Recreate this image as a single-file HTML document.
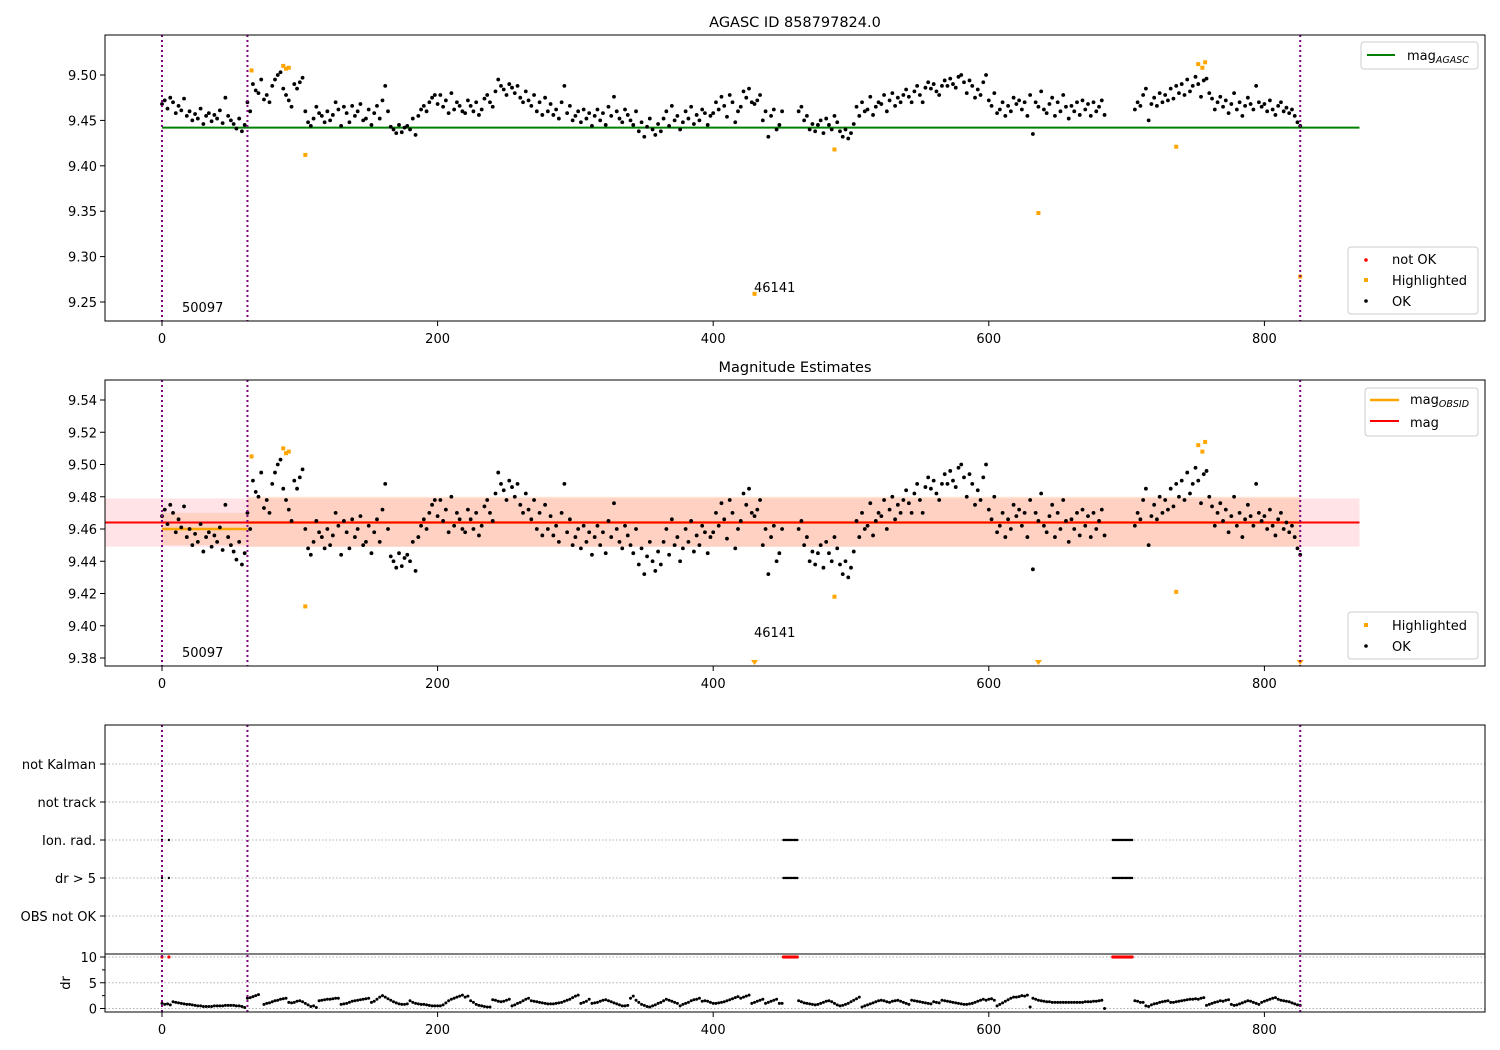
<!DOCTYPE html>
<html><head><meta charset="utf-8"><style>
html,body{margin:0;padding:0;background:#fff;}
svg{display:block;font-family:"DejaVu Sans","Liberation Sans",sans-serif;}
</style></head><body>
<svg id="fig" width="1500" height="1050" viewBox="0 0 1500 1050" xmlns="http://www.w3.org/2000/svg">
<rect width="1500" height="1050" fill="#fff"/>
<g id="topPanel"></g>
<g id="midPanel"></g>
<g id="botPanel"></g>
</svg>
<script>
// ---- data ----
const xStep = 2;
const okMag = [
9.468,9.472,9.463,9.475,9.470,9.458,9.466,9.461,9.474,9.455,
9.460,9.450,9.457,9.452,9.463,9.446,9.455,9.458,9.449,9.456,
9.452,9.461,9.447,9.475,9.455,9.450,9.446,9.441,9.452,9.438,
9.445,9.470,9.460,9.490,9.483,9.480,9.495,9.473,9.478,9.470,
9.488,9.495,9.500,9.503,9.485,9.478,9.472,9.465,9.490,9.485,
9.492,9.497,9.460,9.448,9.444,9.452,9.465,9.458,9.455,9.448,
9.460,9.450,9.456,9.470,9.462,9.444,9.465,9.458,9.448,9.466,
9.455,9.460,9.468,9.450,9.452,9.462,9.445,9.458,9.466,9.452,
9.472,9.488,9.460,9.443,9.440,9.436,9.445,9.437,9.442,9.444,
9.440,9.452,9.434,9.455,9.462,9.466,9.460,9.470,9.475,9.478,
9.468,9.478,9.465,9.472,9.458,9.480,9.462,9.470,9.466,9.460,
9.458,9.472,9.466,9.460,9.470,9.456,9.462,9.474,9.478,9.470,
9.465,9.482,9.495,9.488,9.484,9.478,9.490,9.486,9.480,9.488,
9.475,9.470,9.482,9.472,9.466,9.478,9.460,9.470,9.456,9.475,
9.460,9.468,9.456,9.462,9.452,9.470,9.488,9.458,9.466,9.450,
9.455,9.460,9.448,9.462,9.452,9.458,9.444,9.455,9.462,9.450,
9.458,9.445,9.465,9.455,9.476,9.460,9.452,9.448,9.462,9.456,
9.450,9.445,9.460,9.438,9.448,9.432,9.443,9.452,9.440,9.434,
9.446,9.438,9.452,9.460,9.444,9.466,9.450,9.455,9.440,9.448,
9.460,9.452,9.465,9.446,9.456,9.450,9.462,9.458,9.445,9.455,
9.458,9.470,9.462,9.476,9.466,9.454,9.478,9.470,9.448,9.460,
9.465,9.482,9.475,9.485,9.470,9.468,9.472,9.478,9.450,9.460,
9.432,9.455,9.462,9.440,9.445,9.460,null,null,null,null,
null,9.460,9.465,9.450,9.455,9.440,9.446,9.438,9.445,9.450,
9.436,9.452,9.445,9.440,9.455,9.448,9.438,9.432,9.440,9.430,
9.436,9.446,9.465,9.455,9.470,9.460,9.462,9.476,9.456,9.465,
9.470,9.468,9.478,9.460,9.472,9.480,9.466,9.475,9.470,9.478,
9.484,9.476,9.470,9.482,9.488,9.478,9.470,9.486,9.492,9.485,
9.490,9.482,9.478,9.488,9.494,9.488,9.496,9.490,9.486,9.498,
9.500,9.492,9.480,9.494,9.488,9.475,9.484,9.478,9.492,9.500,
9.472,9.466,9.480,9.458,9.462,9.470,9.455,9.466,9.460,9.475,
9.468,9.472,9.462,9.470,9.455,9.478,9.435,9.470,9.465,9.482,
9.462,9.458,9.468,9.475,9.455,9.470,9.460,9.478,9.465,9.452,
9.466,9.460,9.470,9.456,9.472,9.462,9.468,9.455,9.470,9.460,
9.465,9.472,9.456,null,null,null,null,null,null,null,
null,null,null,9.462,9.470,9.466,9.478,9.485,9.450,9.468,
9.475,9.466,9.480,9.470,9.478,9.472,9.485,9.474,9.488,9.480,
9.490,9.478,9.495,9.482,9.488,9.498,9.490,9.476,9.494,9.496,
9.480,9.474,9.462,9.470,9.476,9.465,9.472,9.458,9.468,9.480,
9.462,9.470,9.455,9.466,9.475,9.468,9.462,9.488,9.470,9.465,
9.468,9.460,9.472,9.462,9.456,9.466,9.470,9.460,9.464,9.458,
9.462,9.455,9.448,9.444];
const drVals = [
1.0,0.8,0.9,0.7,1.3,1.2,1.1,1.0,0.9,0.8,
0.8,0.7,0.6,0.5,0.5,0.4,0.4,0.4,0.4,0.5,
0.5,0.5,0.5,0.6,0.6,0.6,0.6,0.5,0.5,0.4,
0.2,2.0,2.1,2.3,2.5,2.7,null,0.8,1.0,1.1,
1.3,1.5,1.6,1.8,1.9,2.0,1.2,1.1,1.2,1.4,
1.5,1.3,1.0,0.7,0.4,0.5,0.2,1.5,1.6,1.7,
1.8,1.8,1.9,2.0,2.0,0.8,0.9,1.0,1.2,1.4,
1.5,1.6,1.7,1.8,1.9,2.0,1.2,1.4,1.8,2.2,
2.5,2.2,1.9,1.6,1.3,1.1,0.9,0.8,0.8,0.9,
1.5,1.2,1.0,0.9,0.8,0.8,0.7,0.6,0.5,0.5,
0.5,0.5,0.7,1.1,1.5,1.8,2.0,2.2,2.4,2.6,
2.2,2.4,1.5,1.2,0.8,0.6,0.5,0.4,0.3,0.3,
1.7,1.6,1.4,1.3,1.4,1.6,1.8,0.5,0.7,1.0,
1.2,1.5,1.8,2.0,1.5,1.4,1.3,1.2,1.1,1.0,
0.9,0.9,0.9,1.0,1.1,1.2,1.4,1.6,1.8,2.1,
2.4,2.6,1.0,1.2,1.4,1.8,1.0,1.1,1.2,1.4,
1.6,1.7,1.5,1.3,1.1,0.9,0.7,0.5,0.5,0.6,
2.0,2.4,1.6,1.2,0.8,0.6,0.4,0.3,0.5,0.7,
1.0,1.2,1.5,1.8,1.6,1.4,1.2,1.0,0.5,0.8,
1.0,1.2,1.5,1.7,1.8,2.0,1.4,1.5,1.4,1.2,
1.0,1.0,1.1,1.2,1.3,1.5,1.7,1.9,2.1,2.3,
2.0,2.2,2.4,2.6,1.0,1.2,1.4,1.6,1.8,1.0,
1.2,1.4,1.6,1.8,1.0,1.0,null,null,null,null,
null,1.5,1.3,1.1,1.0,0.9,0.8,0.7,0.8,1.0,
1.2,1.4,1.5,1.3,1.0,0.7,0.5,0.6,0.8,1.0,
1.3,1.6,1.9,2.2,0.3,0.5,0.7,0.9,1.1,1.3,
1.5,1.6,1.5,1.3,1.2,1.4,1.5,1.6,1.4,1.2,
1.0,0.8,1.6,1.5,1.4,1.3,1.2,1.1,1.0,0.9,
1.3,1.2,1.1,1.6,1.5,1.4,1.3,1.2,1.1,1.0,
0.9,0.8,0.8,0.9,1.0,1.2,1.4,1.6,1.8,1.6,
1.8,1.9,1.6,0.5,0.8,1.1,1.4,1.7,2.0,2.2,
2.2,2.3,2.5,2.4,2.6,0.3,2.0,1.8,1.6,1.5,
1.4,1.3,1.3,1.2,1.2,1.2,1.2,1.2,1.2,1.2,
1.2,1.2,1.2,1.2,1.2,1.3,1.3,1.3,1.4,1.4,
1.5,1.6,0.0,null,null,null,null,null,null,null,
null,null,null,1.5,1.4,1.2,1.2,0.5,0.4,0.7,
0.9,1.0,1.2,1.3,1.4,1.5,1.2,1.2,1.3,1.4,
1.5,1.6,1.7,1.8,1.8,1.9,1.8,2.0,2.1,0.6,
0.8,1.0,1.2,1.3,1.5,1.4,1.6,1.7,0.8,0.6,
0.7,0.9,1.1,1.3,1.5,1.4,1.2,1.0,0.8,1.2,
1.4,1.6,1.8,2.0,2.1,1.8,1.6,1.5,1.4,1.3,
1.1,0.9,0.7,0.6];
const hlX = [65,88,90,92,104,430,488,636,736,752,755,757,826];
const hlMag = [9.505,9.510,9.507,9.508,9.412,9.259,9.418,9.348,9.421,9.512,9.508,9.514,9.278];
const flagX = [0,5,451,452,453,454,455,456,457,458,459,460,461,690,691,692,693,694,695,696,697,698,699,700,701,702,703,704];
const obsBounds = [0,62,826];
const obsLabels = ["50097","46141"];
const obsMag = [9.460,9.464];
const obsLo = [9.450,9.449];
const obsHi = [9.470,9.480];
const agascMag = 9.442;
const meanMag = 9.464, meanLo = 9.449, meanHi = 9.479;
const topTicks = [9.25,9.30,9.35,9.40,9.45,9.50];
const midTicks = [9.38,9.40,9.42,9.44,9.46,9.48,9.50,9.52,9.54];
const xTicks = [0,200,400,600,800];
const catLabels = ["OBS not OK","dr > 5","Ion. rad.","not track","not Kalman"];
const drTicks = [0,5,10];

// ---- scales ----
const L=105,R=1485;
const X = d => 162 + d*1.378;
const yT = m => 75 + (9.50-m)*908;
const yM = m => 400 + (9.54-m)*1612.5;
const yC = i => 916 - i*38;
const yD = v => 1008.5 - v*5.15;
const NS="http://www.w3.org/2000/svg";
const FS=13;
function mk(parent, tag, attrs, txt){
  const e=document.createElementNS(NS,tag);
  for(const k in attrs) e.setAttribute(k,attrs[k]);
  if(txt!==undefined) e.textContent=txt;
  parent.appendChild(e); return e;
}
const gTop=document.getElementById('topPanel'), gMid=document.getElementById('midPanel'), gBot=document.getElementById('botPanel');

function frame(g,y0,y1){
  const r=mk(g,'rect',{x:L,y:y0,width:R-L,height:y1-y0,fill:'none',stroke:'#000','stroke-width':1});
  
  
}
function xAxis(g,yb,labels){
  xTicks.forEach(t=>{
    const l=mk(g,'line',{x1:X(t),x2:X(t),y1:yb,y2:yb+5,stroke:'#000'});
    
    
    if(labels){
      const tx=mk(g,'text',{x:X(t),y:yb+22,'font-size':FS,'text-anchor':'middle',fill:'#000'},String(t));
      
      
    }
  });
}
function yAxis(g,ticks,f,fmt){
  ticks.forEach(t=>{
    const l=mk(g,'line',{x1:L-5,x2:L,y1:f(t),y2:f(t),stroke:'#000'});
    
    
    const tx=mk(g,'text',{x:L-8,y:f(t)+5,'font-size':FS,'text-anchor':'end',fill:'#000'},fmt(t));
    
    
  });
}
function vlines(g,y0,y1){
  obsBounds.forEach(b=>{
    const l=mk(g,'line',{x1:X(b),x2:X(b),y1:y0,y2:y1,stroke:'#800080','stroke-width':2,'stroke-dasharray':'2,3'});
    
    
  });
}
function dots(g,f,color,r,lo,hi,name){
  okMag.forEach((m,i)=>{
    if(m===null) return;
    const y=f(m); if(y<lo||y>hi) return;
    const c=mk(g,'circle',{cx:X(i*xStep),cy:y,r:r,fill:color});
    
    
  });
}
function hl(g,f,lo,hi,tri){
  hlX.forEach((x,i)=>{
    const y=f(hlMag[i]);
    if(y>hi){
      if(tri){
        const p=mk(g,'path',{d:`M${X(x)-3.5},${hi-6} L${X(x)+3.5},${hi-6} L${X(x)},${hi-1} Z`,fill:'orange'});
        
        
      }
      return;
    }
    const c=mk(g,'rect',{x:X(x)-2,y:y-2,width:4,height:4,fill:'orange'});
    
    
  });
}
function legendBox(g,x,y,w,h){
  const r=mk(g,'rect',{x:x,y:y,width:w,height:h,rx:3,fill:'#fff','fill-opacity':0.8,stroke:'#ccc'});
  
  
}
function legText(g,x,y,txt,sub){
  const t=mk(g,'text',{x:x,y:y,'font-size':FS,fill:'#000'},txt);
  
  
  if(sub){mk(t,'tspan',{'font-size':9.5,'font-style':'italic',dy:3},sub);}
}

// ===== TOP PANEL =====
(function(){
  const g=gTop, y0=35, y1=321;
  const t=mk(g,'text',{x:795,y:27,'font-size':14.5,'text-anchor':'middle'},'AGASC ID 858797824.0');
  
  
  const gl=mk(g,'line',{x1:X(0),x2:X(869),y1:yT(agascMag),y2:yT(agascMag),stroke:'green','stroke-width':2});
  
  
  dots(g,yT,'#000',1.9,y0,y1,'ok-point');
  hl(g,yT,y0,y1,false);
  vlines(g,y0,y1);
  [[obsLabels[0],182,312],[obsLabels[1],754,292]].forEach(a=>{
    const tx=mk(g,'text',{x:a[1],y:a[2],'font-size':FS},a[0]);
    
    
  });
  frame(g,y0,y1); xAxis(g,y1,true); yAxis(g,topTicks,yT,v=>v.toFixed(2));
  legendBox(g,1361,42,117,27);
  const ll=mk(g,'line',{x1:1367,x2:1395,y1:55,y2:55,stroke:'green','stroke-width':2});
  
  
  legText(g,1407,60,'mag','AGASC');
  legendBox(g,1348,247,130,67);
  const e1=mk(g,'circle',{cx:1366,cy:260,r:1.8,fill:'red'});
  
  
  legText(g,1392,264,'not OK');
  const e2=mk(g,'rect',{x:1364,y:278,width:4,height:4,fill:'orange'});
  
  
  legText(g,1392,285,'Highlighted');
  const e3=mk(g,'circle',{cx:1366,cy:301,r:1.8,fill:'#000'});
  
  
  legText(g,1392,306,'OK');
})();

// ===== MIDDLE PANEL =====
(function(){
  const g=gMid, y0=380, y1=666;
  const t=mk(g,'text',{x:795,y:372,'font-size':14.5,'text-anchor':'middle'},'Magnitude Estimates');
  
  
  const band=mk(g,'rect',{x:L,y:yM(meanHi),width:X(869)-L,height:yM(meanLo)-yM(meanHi),fill:'#ffc0c8','fill-opacity':0.45});
  
  
  for(let i=0;i<obsMag.length;i++){
    const b=mk(g,'rect',{x:X(obsBounds[i]),y:yM(obsHi[i]),width:X(obsBounds[i+1])-X(obsBounds[i]),height:yM(obsLo[i])-yM(obsHi[i]),fill:'#ffb080','fill-opacity':0.35});
    
    
  }
  for(let i=0;i<obsMag.length;i++){
    const l=mk(g,'line',{x1:X(obsBounds[i]),x2:X(obsBounds[i+1]),y1:yM(obsMag[i]),y2:yM(obsMag[i]),stroke:'orange','stroke-width':2.5});
    
    
  }
  const ml=mk(g,'line',{x1:L,x2:X(869),y1:yM(meanMag),y2:yM(meanMag),stroke:'red','stroke-width':2});
  
  
  dots(g,yM,'#000',1.9,y0,y1,'ok-point');
  hl(g,yM,y0,y1,true);
  vlines(g,y0,y1);
  [[obsLabels[0],182,657],[obsLabels[1],754,637]].forEach(a=>{
    const tx=mk(g,'text',{x:a[1],y:a[2],'font-size':FS},a[0]);
    
    
  });
  frame(g,y0,y1); xAxis(g,y1,true); yAxis(g,midTicks,yM,v=>v.toFixed(2));
  legendBox(g,1365,388,113,48);
  const a=mk(g,'line',{x1:1370,x2:1399,y1:400,y2:400,stroke:'orange','stroke-width':2.5});
  
  
  legText(g,1410,404,'mag','OBSID');
  const b=mk(g,'line',{x1:1370,x2:1399,y1:421,y2:421,stroke:'red','stroke-width':2});
  
  
  legText(g,1410,427,'mag');
  legendBox(g,1348,612,130,47);
  const c=mk(g,'rect',{x:1364,y:623,width:4,height:4,fill:'orange'});
  
  
  legText(g,1392,630,'Highlighted');
  const d=mk(g,'circle',{cx:1366,cy:646,r:1.8,fill:'#000'});
  
  
  legText(g,1392,651,'OK');
})();

// ===== BOTTOM PANEL =====
(function(){
  const g=gBot, y0=725, y1=954, y2=1012;
  catLabels.forEach((c,i)=>{
    const l=mk(g,'line',{x1:L,x2:R,y1:yC(i),y2:yC(i),stroke:'#b0b0b0','stroke-dasharray':'1.5,2'});
    
    
    const tk=mk(g,'line',{x1:L-5,x2:L,y1:yC(i),y2:yC(i),stroke:'#000'});
    
    
    const tx=mk(g,'text',{x:L-9,y:yC(i)+5,'font-size':FS,'text-anchor':'end'},c);
    
    
  });
  drTicks.forEach(t=>{
    const l=mk(g,'line',{x1:L,x2:R,y1:yD(t),y2:yD(t),stroke:'#b0b0b0','stroke-dasharray':'1.5,2'});
    
    
  });
  [2.5,7.5].forEach(t=>{
    const l=mk(g,'line',{x1:L-3,x2:L,y1:yD(t),y2:yD(t),stroke:'#000'});
    
    
  });
  yAxis(g,drTicks,yD,v=>String(v));
  [1,2].forEach(ci=>{
    flagX.forEach(x=>{
      const c=mk(g,'circle',{cx:X(x),cy:yC(ci),r:1.2,fill:'#000'});
      
      
    });
  });
  flagX.forEach(x=>{
    const c=mk(g,'circle',{cx:X(x),cy:yD(10),r:1.6,fill:'red'});
    
    
  });
  drVals.forEach((v,i)=>{
    if(v===null) return;
    const c=mk(g,'circle',{cx:X(i*xStep),cy:yD(v),r:1.5,fill:'#000'});
    
    
  });
  vlines(g,y0,y2);
  frame(g,y0,y1);
  const r2=mk(g,'rect',{x:L,y:y1,width:R-L,height:y2-y1,fill:'none',stroke:'#000'});
  
  
  xAxis(g,y2,true);
  const yl=mk(g,'text',{x:0,y:0,'font-size':FS,'text-anchor':'middle',transform:'translate(70,983) rotate(-90)'},'dr');
  
  
})();
</script>
</body></html>
